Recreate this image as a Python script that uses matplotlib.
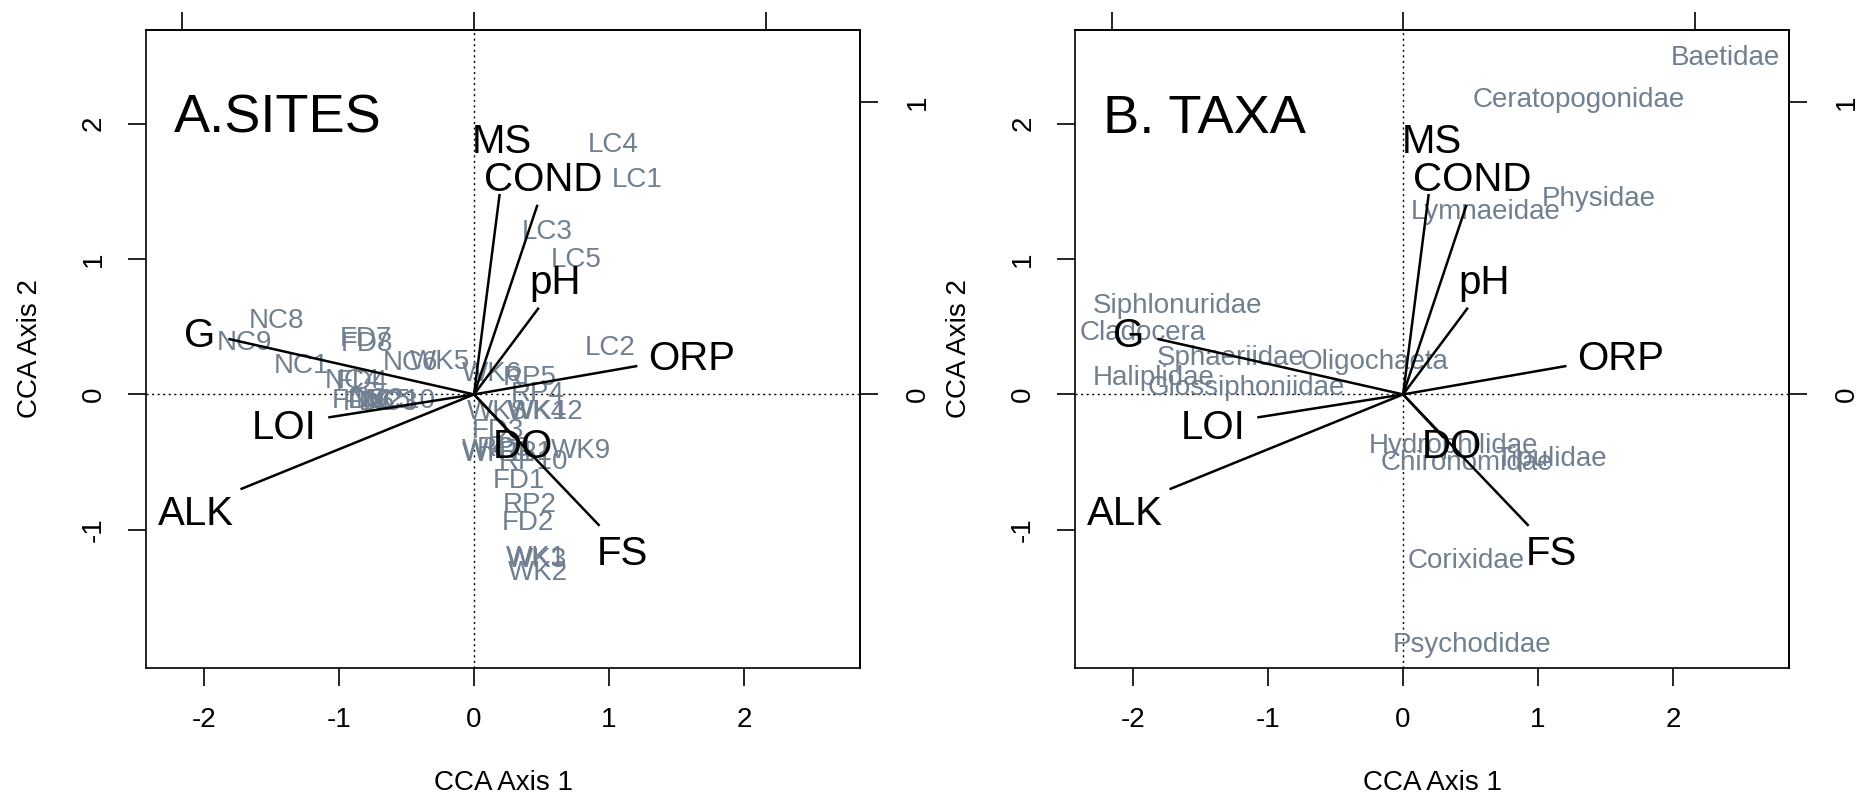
import matplotlib
matplotlib.use("Agg")
import matplotlib.pyplot as plt
from matplotlib import font_manager

plt.rcParams['font.family'] = ['Liberation Sans', 'DejaVu Sans']

# environmental arrows (CCA biplot scores) and where their labels sit
env_names = ['G', 'LOI', 'ALK', 'MS', 'COND', 'pH', 'ORP', 'DO', 'FS']
env_x = [-1.82, -1.08, -1.73, 0.19, 0.47, 0.48, 1.21, 0.30, 0.93]
env_y = [0.41, -0.17, -0.70, 1.48, 1.40, 0.64, 0.21, -0.32, -0.97]
env_lab_x = [-2.03, -1.41, -2.06, 0.21, 0.51, 0.60, 1.61, 0.36, 1.10]
env_lab_y = [0.43, -0.25, -0.88, 1.86, 1.58, 0.82, 0.26, -0.39, -1.18]

# site scores
site_names = ['LC4', 'LC1', 'LC3', 'LC5', 'LC2',
              'NC8', 'NC9', 'FD7', 'FD8', 'NC1', 'NC6', 'WK5', 'NC4', 'FD4',
              'FD5', 'NC2', 'NC3', 'FD6', 'NC5', 'NC10',
              'WK6', 'RP5', 'RP4', 'WK8', 'WK4', 'WK12', 'FD3',
              'WK7', 'RP3', 'WK11', 'RP1', 'WK9', 'RP10',
              'FD1', 'RP2', 'FD2', 'WK1', 'WK3', 'WK2']
site_x = [1.03, 1.21, 0.54, 0.76, 1.01,
          -1.46, -1.70, -0.80, -0.79, -1.28, -0.47, -0.25, -0.90, -0.83,
          -0.86, -0.72, -0.62, -0.78, -0.67, -0.55,
          0.13, 0.41, 0.47, 0.17, 0.47, 0.53, 0.18,
          0.13, 0.22, 0.18, 0.38, 0.79, 0.44,
          0.33, 0.41, 0.40, 0.46, 0.47, 0.47]
site_y = [1.84, 1.58, 1.20, 0.99, 0.34,
          0.54, 0.38, 0.41, 0.37, 0.21, 0.23, 0.24, 0.10, 0.09,
          -0.05, -0.04, -0.06, -0.06, -0.05, -0.05,
          0.15, 0.12, 0.00, -0.13, -0.13, -0.13, -0.27,
          -0.42, -0.40, -0.44, -0.43, -0.42, -0.50,
          -0.64, -0.82, -0.95, -1.21, -1.22, -1.32]

# taxa scores
taxa_names = ['Baetidae', 'Ceratopogonidae', 'Physidae', 'Lymnaeidae',
              'Siphlonuridae', 'Cladocera', 'Sphaeriidae', 'Oligochaeta',
              'Haliplidae', 'Glossiphoniidae', 'Hydrophilidae', 'Chironomidae',
              'Tipulidae', 'Corixidae', 'Psychodidae']
taxa_x = [2.39, 1.30, 1.45, 0.61, -1.67, -1.93, -1.28, -0.21,
          -1.85, -1.16, 0.37, 0.47, 1.10, 0.47, 0.51]
taxa_y = [2.48, 2.17, 1.44, 1.35, 0.65, 0.45, 0.27, 0.24,
          0.12, 0.05, -0.38, -0.51, -0.48, -1.23, -1.85]

x_ticks = [-2, -1, 0, 1, 2]
y_ticks = [-1, 0, 1, 2]
top_ticks = [-1, 0, 1]
right_ticks = [0, 1]
SEC = 2.16  # ratio between main and secondary (species) axis scale

available = {f.name for f in font_manager.fontManager.ttflist}
if 'Liberation Sans Narrow' in available:
    tick_font, tick_size = 'Liberation Sans Narrow', 23
else:
    tick_font, tick_size = 'Liberation Sans', 20

gray = 'slategray'

fig = plt.figure(figsize=(18.6, 8.01), dpi=100)
ax_a = fig.add_axes([0.0785, 0.166, 0.3839, 0.7965])
ax_b = fig.add_axes([0.578, 0.166, 0.3839, 0.7965])


def draw_panel(ax, title, names, xs, ys):
    ax.set_xlim(-2.43, 2.86)
    ax.set_ylim(-2.02, 2.69)
    ax.axhline(0, color='black', lw=1, ls=(0, (1.5, 2.5)), zorder=1)
    ax.axvline(0, color='black', lw=1, ls=(0, (1.5, 2.5)), zorder=1)

    for n, x, y in zip(names, xs, ys):
        ax.text(x, y, n, color=gray, fontsize=20, ha='center', va='center',
                zorder=2)

    for n, x, y, lx, ly in zip(env_names, env_x, env_y, env_lab_x, env_lab_y):
        ax.plot([0, x], [0, y], color='black', lw=1.8, solid_capstyle='butt',
                zorder=3)
        ax.text(lx, ly, n, color='black', fontsize=29, ha='center',
                va='center', zorder=4)

    ax.text(-2.22, 1.93, title, fontsize=39, ha='left', va='baseline')

    for s in ax.spines.values():
        s.set_linewidth(1.2)

    ax.set_xticks(x_ticks)
    ax.set_yticks(y_ticks)
    ax.set_xticklabels([str(t) for t in x_ticks], fontfamily=tick_font,
                       fontsize=tick_size)
    ax.set_yticklabels([str(t) for t in y_ticks], fontfamily=tick_font,
                       fontsize=tick_size, rotation=90, va='center')
    ax.tick_params(direction='out', length=13, width=1.2)
    ax.tick_params(axis='x', pad=15)
    ax.tick_params(axis='y', pad=15)

    top = ax.secondary_xaxis('top', functions=(lambda v: v / SEC,
                                               lambda v: v * SEC))
    top.set_xticks(top_ticks)
    top.set_xticklabels(['' for t in top_ticks])
    top.tick_params(direction='out', length=13, width=1.2)
    top.spines['top'].set_linewidth(1.2)

    right = ax.secondary_yaxis('right', functions=(lambda v: v / SEC,
                                                   lambda v: v * SEC))
    right.set_yticks(right_ticks)
    right.set_yticklabels([str(t) for t in right_ticks],
                          fontfamily=tick_font, fontsize=tick_size,
                          rotation=90, va='center')
    right.tick_params(direction='out', length=13, width=1.2, pad=19)
    right.spines['right'].set_linewidth(1.2)

    ax.text(0.5, -0.180, 'CCA Axis 1', transform=ax.transAxes, ha='center',
            va='center', fontfamily=tick_font, fontsize=tick_size)
    ax.text(-0.163, 0.5, 'CCA Axis 2', transform=ax.transAxes, ha='center',
            va='center', rotation=90, fontfamily=tick_font,
            fontsize=tick_size)


draw_panel(ax_a, 'A.SITES', site_names, site_x, site_y)
draw_panel(ax_b, 'B. TAXA', taxa_names, taxa_x, taxa_y)

fig.savefig('out.png', dpi=100)
